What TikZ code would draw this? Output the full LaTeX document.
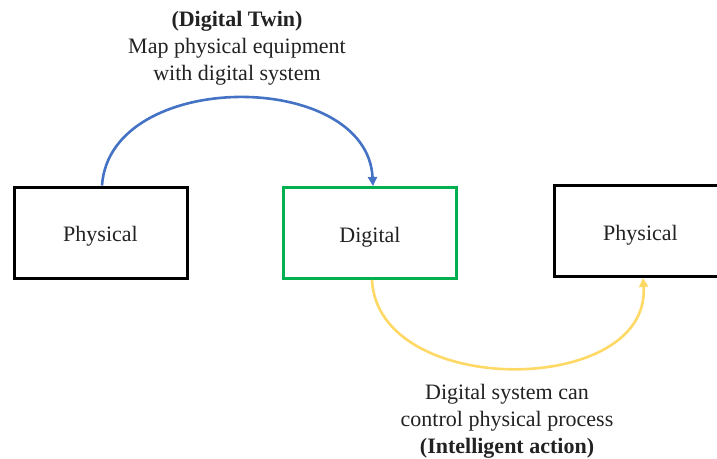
\documentclass[tikz,border=0pt]{standalone}
\usepackage{fontspec}
\setmainfont{Liberation Serif}
\usetikzlibrary{arrows.meta}
\definecolor{twinblue}{HTML}{4472C4}
\definecolor{boxgreen}{HTML}{00B050}
\definecolor{actgold}{HTML}{FFD966}
\definecolor{txt}{HTML}{222222}
\tikzset{
  stage/.style={draw=black, line width=3pt, minimum width=173pt, minimum height=91pt,
    inner sep=0pt, text height=18pt, text depth=0pt,
    font=\fontsize{22}{26}\selectfont, text=txt},
  flow/.style={line width=2.6pt, -{Triangle[length=9pt,width=9pt]}},
  caption/.style={align=center, font=\fontsize{22}{27}\selectfont, text=txt}
}
\begin{document}
\begin{tikzpicture}[x=1pt,y=1pt]
  \clip (0,0) rectangle (717,-458);
  \fill[white] (0,0) rectangle (717,-458);

  % the three stages
  \node[stage] (phys1) at (100.5,-232.5) {Physical};
  \node[stage, draw=boxgreen] (dig) at (370,-233) {Digital};
  \node[stage] (phys2) at (640.5,-231) {Physical};

  % digital twin mapping
  \draw[flow, twinblue] ([xshift=1.5pt]phys1.north)
    .. controls +(8,117) and +(-6,117) .. ([xshift=3pt]dig.north);
  \node[caption] (twin) at (237,-48)
    {\textbf{(Digital Twin)}\\Map physical equipment\\with digital system};

  % intelligent action back to the physical side
  \draw[flow, actgold] ([xshift=2pt]dig.south)
    .. controls +(6,-119) and +(8,-119) .. ([xshift=2.5pt]phys2.south);
  \node[caption] (act) at (507,-421)
    {Digital system can\\control physical process\\\textbf{(Intelligent action)}};
\end{tikzpicture}
\end{document}
